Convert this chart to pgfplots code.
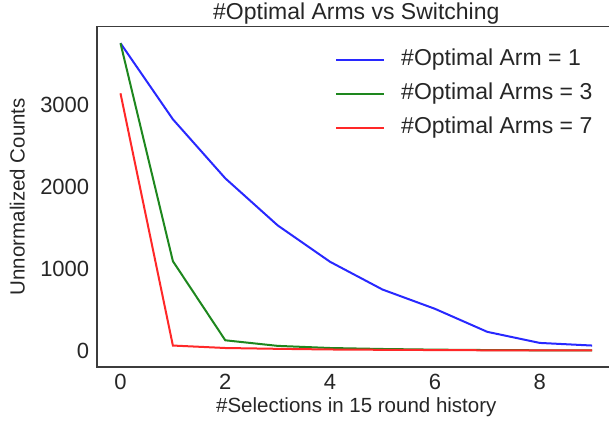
\documentclass[border=0pt]{standalone}
\usepackage{fontspec}
\setmainfont{Liberation Sans}
\usepackage{pgfplots}
\pgfplotsset{compat=1.18}
\definecolor{tblue}{RGB}{40,40,255}
\definecolor{tgreen}{RGB}{30,135,30}
\definecolor{tred}{RGB}{255,40,40}
\definecolor{txt}{RGB}{38,38,38}
\definecolor{spine}{RGB}{60,60,60}
\begin{document}
\begin{tikzpicture}
\path[use as bounding box] (-96.9pt,-56.3pt) rectangle (512.1pt,366.7pt);
\clip (-96.9pt,-56.3pt) rectangle (512.1pt,366.7pt);
\begin{axis}[
  at={(0pt,0pt)}, anchor=south west,
  scale only axis, width=518.8pt, height=340pt,
  xmin=-0.45, xmax=9.45, ymin=-188, ymax=3958,
  xtick={0,2,4,6,8}, ytick={0,1000,2000,3000},
  major tick length=0pt,
  axis line style={spine, line width=1.6pt},
  /pgf/number format/assume math mode=true,
  /pgf/number format/1000 sep={},
  tick label style={font=\fontsize{22}{26}\selectfont, text=txt, inner sep=0pt},
  xticklabel style={anchor=north, yshift=-7pt},
  yticklabel style={anchor=east, xshift=-7.5pt},
  every axis title shift=0pt,
  title={\#Optimal Arms vs Switching},
  title style={font=\fontsize{23}{27}\selectfont, text=txt, at={(axis description cs:0.5,1)}, anchor=base, yshift=6.7pt, inner sep=0pt},
  xlabel={\#Selections in 15 round history},
  xlabel style={font=\fontsize{20.5}{24}\selectfont, text=txt, at={(axis description cs:0.5,0)}, anchor=north, yshift=-31pt, inner sep=0pt},
  ylabel={Unnormalized Counts},
  ylabel style={font=\fontsize{20.5}{24}\selectfont, text=txt, at={([xshift=-71.9pt]axis description cs:0,0.5)}, anchor=south, inner sep=0pt},
  legend image code/.code={\draw[#1, line width=2pt] (0pt,0pt) -- (48pt,0pt);},
  legend style={draw=none, fill=none, at={(axis description cs:0.459,0.933)}, anchor=north west,
    font=\fontsize{23}{27}\selectfont, text=txt, inner sep=0pt, row sep=13pt,
    nodes={inner sep=0pt, text height=16pt, text depth=5pt},
    /tikz/every odd column/.append style={column sep=16pt}},
  legend cell align=left,
]
\addplot[tblue, line width=2pt] coordinates {
 (0,3757) (1,2829) (2,2109) (3,1535) (4,1091) (5,753) (6,518) (7,237) (8,102) (9,70)};
\addlegendentry{\#Optimal Arm = 1}
\addplot[tgreen, line width=2pt] coordinates {
 (0,3757) (1,1099) (2,134) (3,66) (4,40) (5,28) (6,20) (7,15) (8,12) (9,10)};
\addlegendentry{\#Optimal Arms = 3}
\addplot[tred, line width=2pt] coordinates {
 (0,3146) (1,70) (2,40) (3,30) (4,22) (5,18) (6,15) (7,12) (8,10) (9,10)};
\addlegendentry{\#Optimal Arms = 7}
\end{axis}
\end{tikzpicture}
\end{document}
